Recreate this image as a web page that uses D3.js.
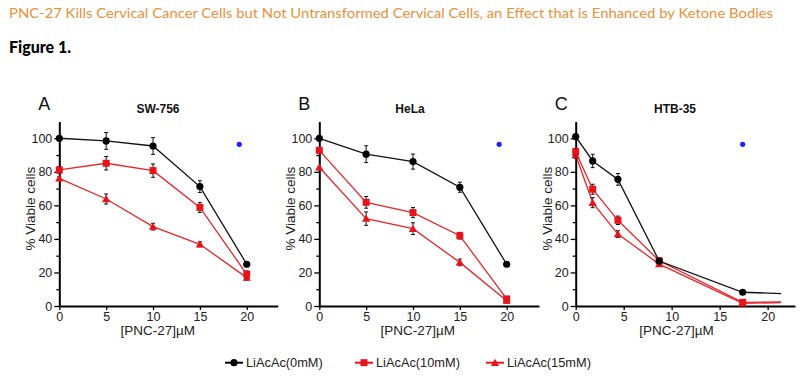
<!DOCTYPE html>
<html>
<head>
<meta charset="utf-8">
<script src="https://cdn.jsdelivr.net/npm/d3@7"></script>
<style>
  body { margin: 0; background: #fff; }
  svg { display: block; }
</style>
</head>
<body>
<script>
// series names + colors
var seriesNames = ["LiAcAc(0mM)", "LiAcAc(10mM)", "LiAcAc(15mM)"];
var seriesColors = ["#000000", "#e8141b", "#e8141b"];
var seriesShapes = ["circle", "square", "triangle"];

// panel A: SW-756
var aX = [0, 5, 10, 15, 20];
var a0 = [100, 98.4, 95.4, 71.2, 24.9];
var a0Err = [0.5, 5, 5, 3.5, 1.5];
var a10 = [81.1, 85.1, 80.7, 58.8, 18.9];
var a10Err = [2, 4, 4, 3, 2];
var a15 = [76.1, 63.8, 47.3, 36.8, 16.9];
var a15Err = [1, 3, 2, 1.5, 1.5];

// panel B: HeLa
var bX = [0, 5, 10, 15, 20];
var b0 = [100, 90.5, 86.1, 70.8, 24.9];
var b0Err = [0, 5, 4.5, 3, 0.5];
var b10 = [92.8, 61.8, 55.7, 41.9, 4.2];
var b10Err = [1.5, 3.5, 3, 2, 1.5];
var b15 = [82.7, 52.1, 46.1, 26.0, 3.2];
var b15Err = [0.5, 4, 3.5, 2, 1.5];

// panel C: HTB-35 (last point of each line has no marker)
var cX = [0, 1.77, 4.4, 8.7, 17.4, 21.4];
var c0 = [101, 86.5, 75.5, 26.8, 8.2, 7.4];
var c0Err = [1, 4, 3.5, 1.5, 1];
var c10 = [92, 69.6, 51.1, 27, 2.2, 2.4];
var c10Err = [2, 3, 2.5, 1.5, 0.5];
var c15 = [90, 61.6, 42.9, 25, 1.6, 2];
var c15Err = [2, 3, 2, 1, 0.5];

// stray blue dot in each panel [x, y]
var blueDotA = [19.2, 96.4];
var blueDotB = [19.2, 96.4];
var blueDotC = [17.4, 96.4];

var xTicks = [0, 5, 10, 15, 20];
var yTicks = [0, 20, 40, 60, 80, 100];
var yMinor = [10, 30, 50, 70, 90];

var W = 800, H = 389;

var svg = d3.select("body").append("svg")
  .attr("width", W)
  .attr("height", H)
  .style("font-family", "'Liberation Sans', Arial, sans-serif");

svg.append("text")
  .attr("x", 9).attr("y", 18)
  .attr("fill", "#e8913a")
  .style("font-family", "Lato, 'Open Sans', sans-serif")
  .style("font-size", "13.5px")
  .attr("textLength", 764)
  .attr("lengthAdjust", "spacingAndGlyphs")
  .text("PNC-27 Kills Cervical Cancer Cells but Not Untransformed Cervical Cells, an Effect that is Enhanced by Ketone Bodies");

svg.append("text")
  .attr("x", 9).attr("y", 53)
  .attr("fill", "#000")
  .style("font-family", "Lato, 'Open Sans', sans-serif")
  .style("font-weight", "900")
  .style("font-size", "16px")
  .text("Figure 1.");

function marker(g, shape, color, x, y) {
  if (shape == "circle") {
    g.append("circle").attr("cx", x).attr("cy", y).attr("r", 3.6).attr("fill", color);
  } else if (shape == "square") {
    g.append("rect").attr("x", x - 3.5).attr("y", y - 3.5)
      .attr("width", 7).attr("height", 7).attr("fill", color);
  } else {
    g.append("path").attr("d", d3.symbol(d3.symbolTriangle, 30)())
      .attr("transform", "translate(" + x + "," + (y + 0.8) + ")")
      .attr("fill", color);
  }
}

function drawPanel(p) {
  var x = d3.scaleLinear().domain([0, p.xMax]).range([p.left, p.right]);
  var y = d3.scaleLinear().domain([0, 110]).range([306, 121.5]);
  var g = svg.append("g");

  // axes
  var yAxis = d3.axisLeft(y).tickValues(yTicks).tickSize(5).tickPadding(2).tickSizeOuter(0);
  g.append("g").attr("transform", "translate(" + p.left + ",0)").call(yAxis);
  var ym = d3.axisLeft(y).tickValues(yMinor).tickSize(3).tickFormat("").tickSizeOuter(0);
  g.append("g").attr("transform", "translate(" + p.left + ",0)").call(ym).select(".domain").remove();

  var xAxis = d3.axisBottom(x).tickValues(xTicks).tickSize(4).tickPadding(2).tickSizeOuter(0);
  g.append("g").attr("transform", "translate(0,306)").call(xAxis);

  g.selectAll(".domain").attr("stroke", "#000").attr("stroke-width", 2);
  g.selectAll(".tick line").attr("stroke", "#000").attr("stroke-width", 1.3);
  g.selectAll(".tick text").attr("fill", "#222").style("font-size", "12.5px")
    .style("font-family", "'Liberation Sans', Arial, sans-serif");

  // labels
  g.append("text").attr("x", p.left - 21).attr("y", 110)
    .style("font-size", "18px").attr("fill", "#111").text(p.letter);
  g.append("text").attr("x", p.titleX).attr("y", 113)
    .attr("text-anchor", "middle").style("font-size", "12px").style("font-weight", "bold")
    .attr("fill", "#111").text(p.title);
  g.append("text")
    .attr("transform", "translate(" + (p.left - 24) + "," + y(58) + ") rotate(-90)")
    .attr("text-anchor", "middle").style("font-size", "13.5px").attr("fill", "#222")
    .text("% Viable cells");
  g.append("text").attr("x", x(10.5)).attr("y", 335)
    .attr("text-anchor", "middle").style("font-size", "13.5px").attr("fill", "#222")
    .text("[PNC-27]\u00b5M");

  // blue dot
  g.append("circle").attr("cx", x(p.blue[0])).attr("cy", y(p.blue[1]))
    .attr("r", 2.6).attr("fill", "#1f1fff");

  var line = d3.line().x(function(d) { return x(d[0]); }).y(function(d) { return y(d[1]); });

  // draw back to front: 15mM, 10mM, 0mM
  for (var s = 2; s >= 0; s--) {
    var vals = p.series[s];
    var errs = p.errors[s];
    var pts = p.xs.map(function(xv, i) { return [xv, vals[i]]; });
    g.append("path").datum(pts).attr("d", line)
      .attr("fill", "none").attr("stroke", s == 0 ? "#111" : "#e4262c").attr("stroke-width", 1.3);

    for (var i = 0; i < errs.length; i++) {
      var cx = x(p.xs[i]);
      var top = y(vals[i] + errs[i]), bot = y(vals[i] - errs[i]);
      if (errs[i] > 0.6) {
        g.append("line").attr("x1", cx).attr("x2", cx).attr("y1", top).attr("y2", bot)
          .attr("stroke", "#111").attr("stroke-width", 1);
        g.append("line").attr("x1", cx - 2).attr("x2", cx + 2).attr("y1", top).attr("y2", top)
          .attr("stroke", "#111").attr("stroke-width", 1);
        g.append("line").attr("x1", cx - 2).attr("x2", cx + 2).attr("y1", bot).attr("y2", bot)
          .attr("stroke", "#111").attr("stroke-width", 1);
      }
      marker(g, seriesShapes[s], seriesColors[s], cx, y(vals[i]));
    }
  }
}

drawPanel({
  letter: "A", title: "SW-756", titleX: 158,
  left: 59.3, right: 277.7, xMax: 23.3,
  xs: aX, series: [a0, a10, a15], errors: [a0Err, a10Err, a15Err], blue: blueDotA
});
drawPanel({
  letter: "B", title: "HeLa", titleX: 410,
  left: 319.3, right: 539, xMax: 23.45,
  xs: bX, series: [b0, b10, b15], errors: [b0Err, b10Err, b15Err], blue: blueDotB
});
drawPanel({
  letter: "C", title: "HTB-35", titleX: 675,
  left: 575.7, right: 795, xMax: 22.85,
  xs: cX, series: [c0, c10, c15], errors: [c0Err, c10Err, c15Err], blue: blueDotC
});

// legend
var legX = [225, 355, 486];
var leg = svg.append("g");
seriesNames.forEach(function(name, i) {
  var lx = legX[i], ly = 362.7;
  leg.append("line").attr("x1", lx).attr("x2", lx + 18).attr("y1", ly).attr("y2", ly)
    .attr("stroke", seriesColors[i]).attr("stroke-width", 2);
  marker(leg, seriesShapes[i], seriesColors[i], lx + 9, ly);
  leg.append("text").attr("x", lx + 21).attr("y", ly + 4.5)
    .style("font-size", "12.8px").attr("fill", "#222").text(name);
});
</script>
</body>
</html>
